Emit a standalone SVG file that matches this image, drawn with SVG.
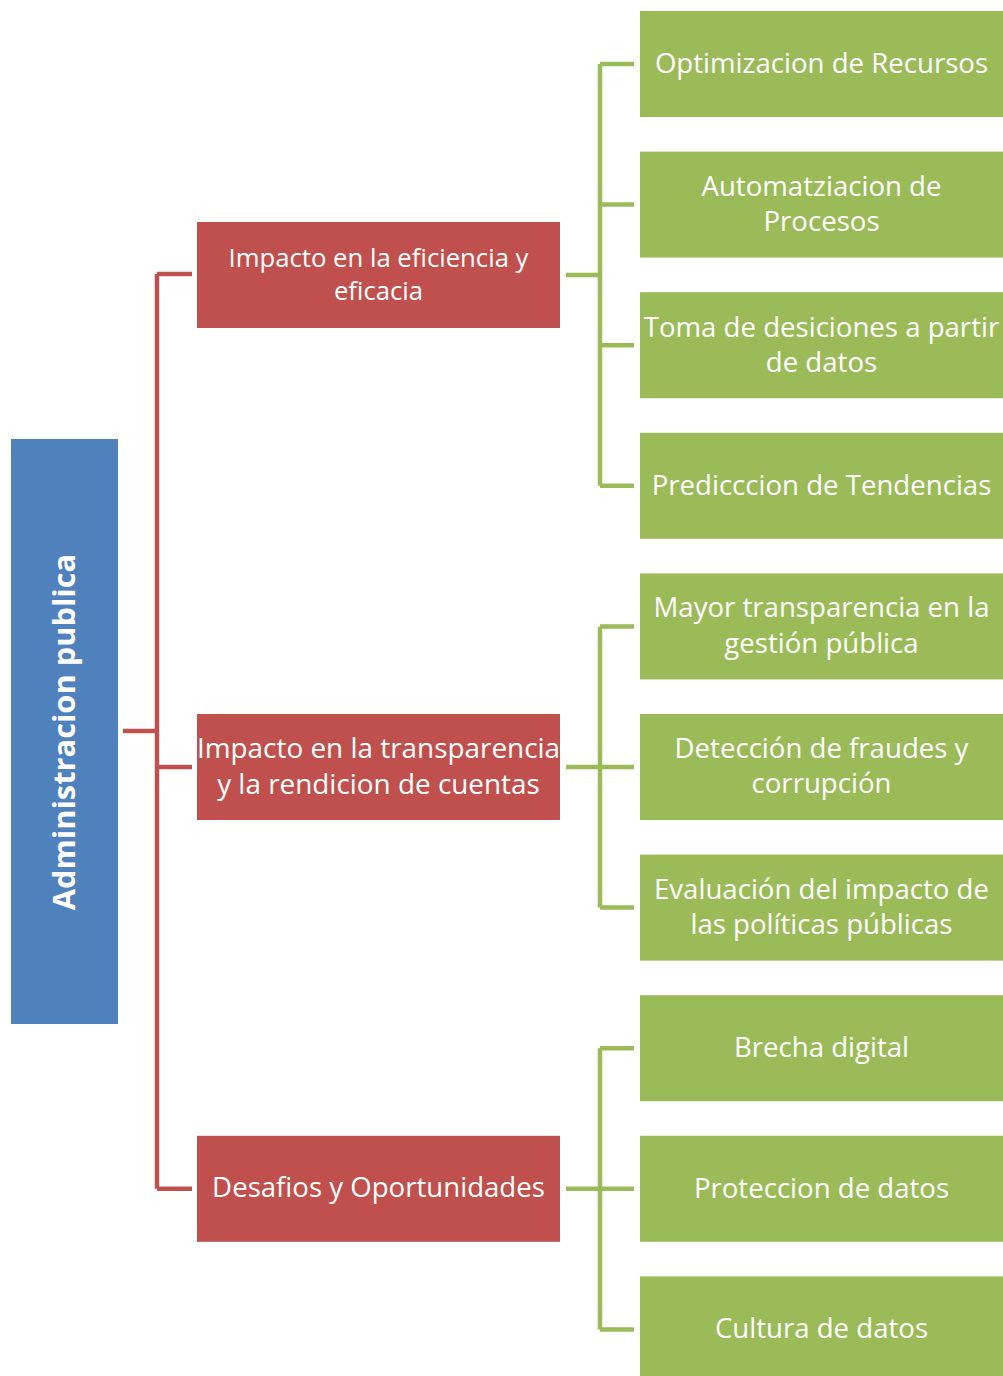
<svg xmlns="http://www.w3.org/2000/svg" width="1003" height="1376" viewBox="0 0 1003 1376">
<style>
.blue{fill:#4F81BD}
.red{fill:#C0504D}
.green{fill:#9BBB59}
.t{font-family:"Open Sans","Noto Sans","DejaVu Sans",sans-serif;fill:#FFFFFF;text-anchor:middle}
.g{font-size:27.6px}
.rc{stroke:#C0504D;stroke-width:4.5;fill:none}
.gc{stroke:#9BBB59;stroke-width:4.5;fill:none}
</style>
<rect width="1003" height="1376" fill="#FFFFFF"/>
<g id="connectors">
  <path class="rc" d="M123 731 H157 M157 274 V1188.8 M157 274 H192 M157 767 H192 M157 1188.8 H192"/>
  <path class="gc" d="M566 275 H600 M600 64 V485.8 M600 64 H634 M600 204.6 H634 M600 345.2 H634 M600 485.8 H634"/>
  <path class="gc" d="M566 767 H600 M600 626.4 V907.6 M600 626.4 H634 M600 767 H634 M600 907.6 H634"/>
  <path class="gc" d="M566 1188.8 H600 M600 1048.2 V1329.4 M600 1048.2 H634 M600 1188.8 H634 M600 1329.4 H634"/>
</g>
<g id="root">
  <rect class="blue" x="11" y="439" width="107" height="585"/>
  <text class="t" font-size="30.8" font-weight="bold" transform="translate(74.5,732) rotate(-90)">Administracion publica</text>
</g>
<g id="r1">
  <rect class="red" x="197" y="222" width="363" height="106"/>
  <text class="t" font-size="25.7"><tspan x="378.5" y="266.8">Impacto en la eficiencia y</tspan><tspan x="378.5" y="300.2">eficacia</tspan></text>
</g>
<g id="r2">
  <rect class="red" x="197" y="714" width="363" height="106"/>
  <text class="t" font-size="27.9"><tspan x="378.5" y="757.5">Impacto en la transparencia</tspan><tspan x="378.5" y="793.5">y la rendicion de cuentas</tspan></text>
</g>
<g id="r3">
  <rect class="red" x="197" y="1135.8" width="363" height="106"/>
  <text class="t" font-size="27.6" x="378.5" y="1197">Desafios y Oportunidades</text>
</g>
<g id="g0">
  <rect class="green" x="640" y="11" width="363" height="106"/>
  <text class="t g" x="821.5" y="73">Optimizacion de Recursos</text>
</g>
<g id="g1">
  <rect class="green" x="640" y="151.6" width="363" height="106"/>
  <text class="t g"><tspan x="821.5" y="195.5">Automatziacion de</tspan><tspan x="821.5" y="231">Procesos</tspan></text>
</g>
<g id="g2">
  <rect class="green" x="640" y="292.2" width="363" height="106"/>
  <text class="t g"><tspan x="821.5" y="336.5">Toma de desiciones a partir</tspan><tspan x="821.5" y="372">de datos</tspan></text>
</g>
<g id="g3">
  <rect class="green" x="640" y="432.8" width="363" height="106"/>
  <text class="t g" x="821.5" y="495">Predicccion de Tendencias</text>
</g>
<g id="g4">
  <rect class="green" x="640" y="573.4" width="363" height="106"/>
  <text class="t g"><tspan x="821.5" y="617">Mayor transparencia en la</tspan><tspan x="821.5" y="652.5">gestión pública</tspan></text>
</g>
<g id="g5">
  <rect class="green" x="640" y="714" width="363" height="106"/>
  <text class="t g"><tspan x="821.5" y="757.5">Detección de fraudes y</tspan><tspan x="821.5" y="793">corrupción</tspan></text>
</g>
<g id="g6">
  <rect class="green" x="640" y="854.6" width="363" height="106"/>
  <text class="t g"><tspan x="821.5" y="898.5">Evaluación del impacto de</tspan><tspan x="821.5" y="934">las políticas públicas</tspan></text>
</g>
<g id="g7">
  <rect class="green" x="640" y="995.2" width="363" height="106"/>
  <text class="t g" x="821.5" y="1057">Brecha digital</text>
</g>
<g id="g8">
  <rect class="green" x="640" y="1135.8" width="363" height="106"/>
  <text class="t g" x="821.5" y="1197.5">Proteccion de datos</text>
</g>
<g id="g9">
  <rect class="green" x="640" y="1276.4" width="363" height="106"/>
  <text class="t g" x="821.5" y="1337.5">Cultura de datos</text>
</g>
</svg>
